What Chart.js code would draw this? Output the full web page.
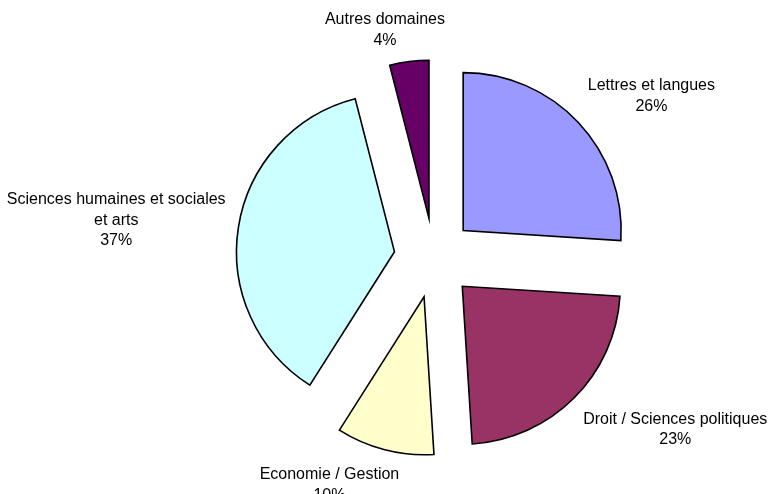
<!DOCTYPE html>
<html lang="fr">
<head>
    <meta charset="UTF-8">
    <title>Répartition par domaine</title>
    <script src="https://cdn.jsdelivr.net/npm/chart.js"></script>
    <style>
        html, body { margin: 0; padding: 0; background: #fff; }
        .chart-container { width: 768px; height: 494px; }
    </style>
</head>
<body>
<div class="chart-container">
    <canvas id="pie"></canvas>
</div>
<script>
    // slices, clockwise from 12 o'clock
    const labels = [
        ['Lettres et langues'],
        ['Droit / Sciences politiques'],
        ['Economie / Gestion'],
        ['Sciences humaines et sociales', 'et arts'],
        ['Autres domaines']
    ];
    const shares = [26, 23, 10, 37, 4];
    const colors = ['#9999FF', '#993366', '#FFFFCC', '#CCFFFF', '#660066'];

    const EXPLODE = 40;    // distance each slice is pulled out
    const LABEL_GAP = 13;
    const LINE_H = 20.5;

    // pull each slice out along its bisector (keeps radius equal for all slices)
    const explodePlugin = {
        id: 'explode',
        afterDatasetUpdate(chart, args) {
            const meta = chart.getDatasetMeta(args.index);
            meta.data.forEach(arc => {
                const mid = (arc.startAngle + arc.endAngle) / 2;
                arc.x += Math.cos(mid) * EXPLODE;
                arc.y += Math.sin(mid) * EXPLODE;
            });
        }
    };

    // excel-like outside labels: name + percent
    const labelPlugin = {
        id: 'outsideLabels',
        afterDatasetsDraw(chart) {
            const ctx = chart.ctx;
            const meta = chart.getDatasetMeta(0);
            ctx.save();
            ctx.font = '16px "Liberation Sans", Arial, sans-serif';
            ctx.fillStyle = '#000';
            ctx.textAlign = 'center';
            ctx.textBaseline = 'middle';
            meta.data.forEach((arc, i) => {
                const mid = (arc.startAngle + arc.endAngle) / 2;
                const dx = Math.cos(mid), dy = Math.sin(mid);
                const r = arc.outerRadius + LABEL_GAP;
                const ax = arc.x + dx * r;
                const ay = arc.y + dy * r;
                const lines = labels[i].concat([shares[i] + '%']);
                const w = Math.max(...lines.map(l => ctx.measureText(l).width));
                const h = lines.length * LINE_H;
                const kx = Math.max(-1, Math.min(1, dx * 3));
                const ky = Math.max(-1, Math.min(1, dy * 1.4));
                const cx = ax + kx * w / 2;
                const cy = ay + ky * h / 2 + 2;
                lines.forEach((l, j) => {
                    ctx.fillText(l, cx, cy - h / 2 + LINE_H * (j + 0.5));
                });
            });
            ctx.restore();
        }
    };

    new Chart(document.getElementById('pie'), {
        type: 'pie',
        data: {
            labels: labels.map(l => l.join(' ')),
            datasets: [{
                data: shares,
                backgroundColor: colors,
                borderColor: '#000',
                borderWidth: 1.6,
                borderJoinStyle: 'miter'
            }]
        },
        options: {
            responsive: true,
            maintainAspectRatio: false,
            animation: false,
            radius: 158,
            layout: {
                padding: { left: 120, right: 20, top: 30, bottom: 8 }
            },
            plugins: {
                legend: { display: false },
                tooltip: { enabled: false }
            }
        },
        plugins: [explodePlugin, labelPlugin]
    });
</script>
</body>
</html>
